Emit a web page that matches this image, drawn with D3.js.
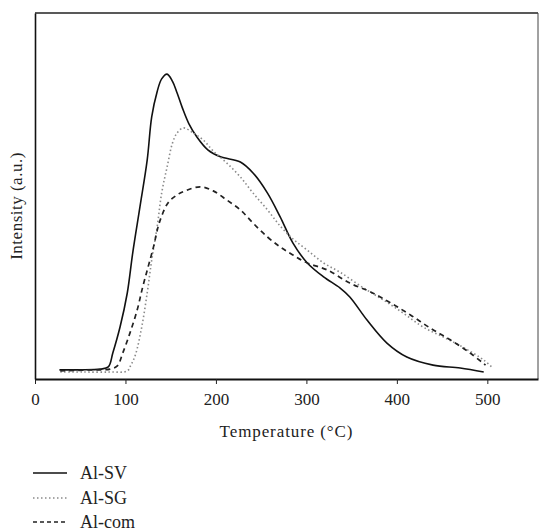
<!DOCTYPE html>
<html><head><meta charset="utf-8">
<script src="https://cdn.jsdelivr.net/npm/d3@7"></script>
<style>body{margin:0;background:#fff}svg{display:block}text{font-family:"Liberation Serif","Times New Roman",serif;fill:#222}</style>
</head><body>
<script>
// Temperature (°C) and intensity (a.u.)
const tempSV = [27,50,72,81,86,94,102,108,116,124,129,135,140,146,152,157,163,170,179,191,205,227,241,257,271,285,301,319,337,348,367,389,411,440,470,496];
const valSV  = [2.5,2.5,2.7,3.3,7.1,14.2,23.5,34.4,47,59.8,71.6,78.5,82,83.3,81.3,78.2,74,69.8,66.1,62.6,60.7,59.3,56.3,50.8,44.3,37.2,31.7,27.9,24.9,22.4,16.1,9.8,6.0,3.8,3.0,1.9];
const tempSG = [28,53,83,102,106,111,118,124,129,135,140,146,152,157,164,175,186,197,212,227,241,257,271,285,301,319,337,363,385,407,429,451,473,496,506];
const valSG  = [1.9,1.9,1.9,2.2,3.8,6.6,14.2,23.5,32.5,41.5,50.8,57.9,64.5,67.2,68.6,67.2,65.3,62.3,59.0,55.2,50.8,46.2,41.8,38.3,35.2,31.7,29.2,24.9,21.6,18.0,14.2,11.5,8.7,5.2,3.0];
const tempCom = [28,61,83,91,97,105,113,119,125,131,136,140,147,157,168,183,197,212,227,241,257,271,285,301,323,348,371,393,415,437,459,481,498];
const valCom  = [2.2,2.5,2.7,3.6,7.1,12.6,18.9,25.1,30.6,36.1,41.5,44.5,48.1,50.3,51.6,52.5,51.4,48.9,46.2,42.6,38.8,36.1,33.9,31.7,29.8,26.2,23.8,20.8,17.5,13.9,10.7,7.1,3.8];
const xTicks = [0,100,200,300,400,500];
const seriesNames = ["Al-SV","Al-SG","Al-com"];

const W = 540, H = 531;
const svg = d3.select("body").append("svg").attr("width", W).attr("height", H);
const x = d3.scaleLinear().domain([0, 556]).range([35, 538]);
const y = d3.scaleLinear().domain([0, 100]).range([379, 13]);

const styles = [
  {stroke:"#111", width:1.6, dash:null},
  {stroke:"#8a8a8a", width:1.6, dash:"1.5,2.5"},
  {stroke:"#222", width:1.7, dash:"5,4"}
];
const series = [
  tempSV.map((t,i)=>[t,valSV[i]]),
  tempSG.map((t,i)=>[t,valSG[i]]),
  tempCom.map((t,i)=>[t,valCom[i]])
];

// frame top/right
svg.append("line").attr("x1",35).attr("x2",538).attr("y1",y(100)).attr("y2",y(100)).attr("stroke","#222").attr("stroke-width",1.4);
svg.append("line").attr("x1",538).attr("x2",538).attr("y1",y(100)).attr("y2",y(0)).attr("stroke","#444").attr("stroke-width",1);

const line = d3.line().x(d=>x(d[0])).y(d=>y(d[1])).curve(d3.curveCatmullRom.alpha(0.5));
series.forEach((s,i)=>{
  svg.append("path").datum(s).attr("d",line).attr("fill","none")
    .attr("stroke",styles[i].stroke).attr("stroke-width",styles[i].width)
    .attr("stroke-dasharray",styles[i].dash);
});

// axes
const xAxis = svg.append("g").attr("transform",`translate(0,${y(0)})`)
  .call(d3.axisBottom(x).tickValues(xTicks).tickSize(5).tickSizeOuter(0).tickPadding(9));
xAxis.select(".domain").attr("stroke","#111").attr("stroke-width",2);
xAxis.selectAll(".tick line").attr("stroke","#222");
xAxis.selectAll("text").style("font-family","Liberation Serif").style("font-size","17px").attr("fill","#222");

const yAxis = svg.append("g").attr("transform",`translate(35,0)`)
  .call(d3.axisLeft(y).tickValues([]).tickSizeOuter(0));
yAxis.select(".domain").attr("stroke","#111").attr("stroke-width",1.6);

svg.append("text").attr("x",286.5).attr("y",437).attr("text-anchor","middle")
  .style("font-size","17px").style("letter-spacing","0.9px").text("Temperature (°C)");
svg.append("text").attr("transform","translate(22,206) rotate(-90)").attr("text-anchor","middle")
  .style("font-size","17px").style("letter-spacing","0.5px").text("Intensity (a.u.)");

// legend
const legY = [473,498,522];
seriesNames.forEach((n,i)=>{
  svg.append("line").attr("x1",33).attr("x2",67).attr("y1",legY[i]).attr("y2",legY[i])
    .attr("stroke",styles[i].stroke).attr("stroke-width",styles[i].width-0.3)
    .attr("stroke-dasharray",i===2?"4,3":styles[i].dash);
  svg.append("text").attr("x",80).attr("y",legY[i]+6).style("font-size","18px").text(n);
});
</script>
</body></html>
